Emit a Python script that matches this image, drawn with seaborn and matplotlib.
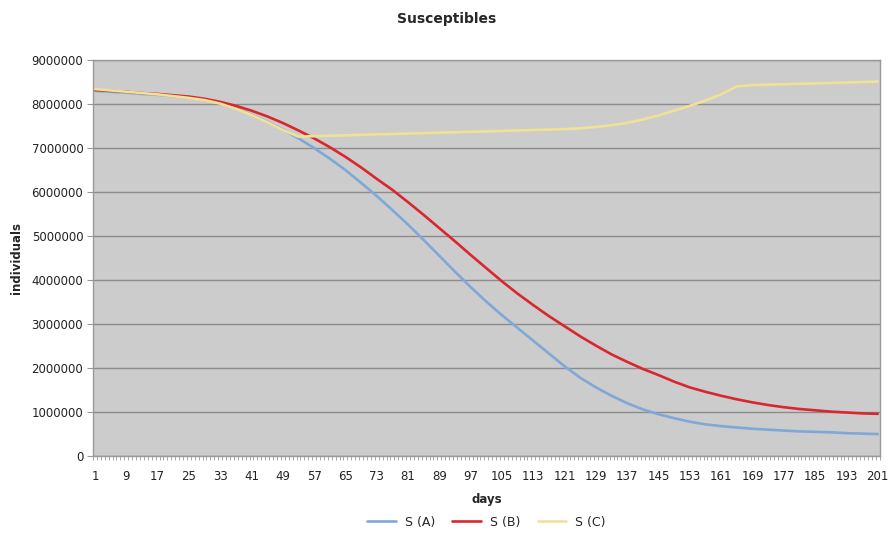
import numpy as np
import pandas as pd
import matplotlib
matplotlib.use("Agg")
import matplotlib.pyplot as plt
import seaborn as sns

days = list(range(1, 202, 4))
s_a = [8.30, 8.28, 8.26, 8.23, 8.21, 8.18, 8.15, 8.10, 8.02, 7.90, 7.76, 7.60, 7.42,
       7.22, 7.00, 6.76, 6.50, 6.21, 5.91, 5.59, 5.26, 4.91, 4.55, 4.19, 3.84, 3.51,
       3.20, 2.91, 2.62, 2.33, 2.04, 1.78, 1.56, 1.37, 1.20, 1.06, 0.95, 0.86, 0.78,
       0.72, 0.68, 0.65, 0.62, 0.60, 0.58, 0.56, 0.55, 0.54, 0.52, 0.51, 0.50]
s_b = [8.32, 8.30, 8.28, 8.25, 8.23, 8.20, 8.17, 8.12, 8.05, 7.96, 7.85, 7.72, 7.57,
       7.40, 7.22, 7.02, 6.80, 6.56, 6.30, 6.05, 5.77, 5.48, 5.18, 4.88, 4.57, 4.27,
       3.97, 3.69, 3.43, 3.18, 2.95, 2.72, 2.51, 2.31, 2.14, 1.98, 1.84, 1.69, 1.56,
       1.46, 1.37, 1.29, 1.22, 1.16, 1.11, 1.07, 1.04, 1.01, 0.99, 0.97, 0.96]
s_c = [8.34, 8.31, 8.28, 8.25, 8.22, 8.18, 8.14, 8.09, 8.01, 7.89, 7.75, 7.59, 7.41,
       7.26, 7.27, 7.28, 7.29, 7.30, 7.31, 7.32, 7.33, 7.34, 7.35, 7.36, 7.37, 7.38,
       7.39, 7.40, 7.41, 7.42, 7.43, 7.45, 7.48, 7.52, 7.57, 7.65, 7.74, 7.85, 7.96,
       8.08, 8.22, 8.40, 8.43, 8.44, 8.45, 8.46, 8.47, 8.48, 8.49, 8.50, 8.51]
series_names = ["S (A)", "S (B)", "S (C)"]
colors = ["#7FA8D8", "#D9262F", "#EFE296"]
x_ticks = list(range(1, 202, 8))
y_ticks = list(range(0, 9000001, 1000000))

df = pd.DataFrame({"days": days * 3,
                   "value": [v * 1e6 for v in s_a + s_b + s_c],
                   "series": sum([[n] * len(days) for n in series_names], [])})

sns.set_style("white")
plt.rcParams["font.family"] = ["DejaVu Sans"]

fig = plt.figure(figsize=(8.94, 5.41), dpi=100)
ax = fig.add_axes([0.104, 0.157, 0.880, 0.732])
ax.set_facecolor("#CCCCCC")

sns.lineplot(data=df, x="days", y="value", hue="series", palette=colors,
             hue_order=series_names, linewidth=1.9, ax=ax, legend=True)

ax.set_xlim(0.5, 201.5)
ax.set_ylim(0, 9000000)
ax.set_yticks(y_ticks)
ax.set_yticklabels([str(v) for v in y_ticks], fontsize=8.5, color="#222222")
ax.set_xticks(x_ticks)
ax.set_xticklabels([str(v) for v in x_ticks], fontsize=8.5, color="#222222")
ax.set_xticks(np.arange(0.5, 202, 1.0), minor=True)
ax.tick_params(axis="x", which="major", length=0, pad=10)
ax.tick_params(axis="x", which="minor", length=3, color="#999999", width=0.6, bottom=True)
ax.tick_params(axis="y", which="major", length=4, color="#999999", left=True, pad=3)
ax.grid(axis="y", color="#8C8C8C", linewidth=1.0)
ax.set_axisbelow(True)
for s in ax.spines.values():
    s.set_color("#999999")
    s.set_linewidth(1.0)

ax.set_xlabel("days", fontsize=8.5, fontweight="bold", labelpad=7)
ax.set_ylabel("individuals", fontsize=8.5, fontweight="bold", labelpad=6)
fig.suptitle("Susceptibles", fontsize=10, fontweight="bold", y=0.978,
             family=["Liberation Sans Narrow", "DejaVu Sans"])

handles, labels = ax.get_legend_handles_labels()
ax.legend(handles, labels, loc="upper center", bbox_to_anchor=(0.5, -0.122),
          ncol=3, frameon=False, fontsize=9, handlelength=2.3, columnspacing=1.4,
          handletextpad=0.7)

fig.savefig("out.png", dpi=100)
